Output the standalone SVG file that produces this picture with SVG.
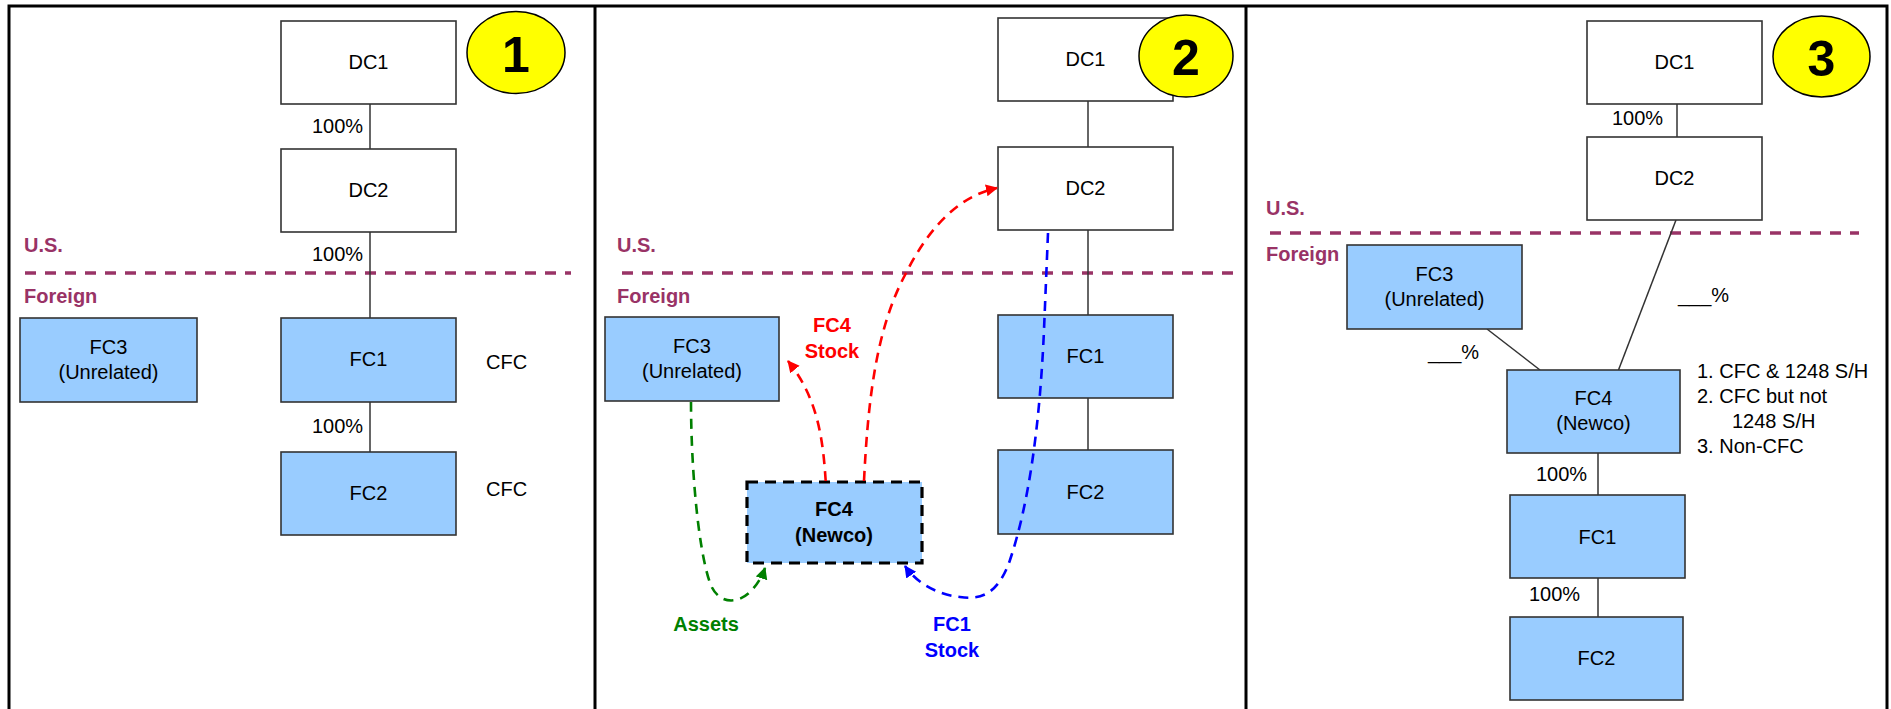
<svg xmlns="http://www.w3.org/2000/svg" width="1891" height="709" viewBox="0 0 1891 709">
  <style>
    text { font-family: "Liberation Sans", Arial, sans-serif; font-size: 20px; fill: #000; }
    .c { text-anchor: middle; }
    .box { stroke: #333; stroke-width: 1.6; }
    .us { fill: #fff; }
    .fc { fill: #99ccff; }
    .link { stroke: #333; stroke-width: 1.5; fill: none; }
    .zone { font-weight: bold; fill: #993366; }
    .border { stroke: #000; stroke-width: 3; fill: none; }
    .divide { stroke: #993366; stroke-width: 3.5; stroke-dasharray: 11 9; fill: none; }
    .badge { fill: #ffff00; stroke: #000; stroke-width: 1.5; }
    .num { font-weight: bold; font-size: 50px; text-anchor: middle; }
    .flow { fill: none; stroke-width: 2.6; stroke-dasharray: 10 7; }
    .b { font-weight: bold; }
  </style>
  <defs>
    <marker id="ah-red" markerUnits="userSpaceOnUse" markerWidth="14" markerHeight="14" refX="11" refY="6" orient="auto">
      <path d="M0,0 L12,6 L0,12 z" fill="#ff0000"/>
    </marker>
    <marker id="ah-green" markerUnits="userSpaceOnUse" markerWidth="14" markerHeight="14" refX="11" refY="6" orient="auto">
      <path d="M0,0 L12,6 L0,12 z" fill="#008000"/>
    </marker>
    <marker id="ah-blue" markerUnits="userSpaceOnUse" markerWidth="14" markerHeight="14" refX="11" refY="6" orient="auto">
      <path d="M0,0 L12,6 L0,12 z" fill="#0000ff"/>
    </marker>
  </defs>

  <rect width="1891" height="709" fill="#fff"/>

  <!-- frame and panel dividers -->
  <g id="frame">
    <polyline class="border" points="9,709 9,6 1887,6 1887,709"/>
    <line class="border" x1="595" y1="6" x2="595" y2="709"/>
    <line class="border" x1="1246" y1="6" x2="1246" y2="709"/>
  </g>

  <!-- ===== Panel 1 ===== -->
  <g id="p1-border-zone">
    <line class="divide" x1="25" y1="273" x2="571" y2="273"/>
    <text class="zone" x="24" y="252">U.S.</text>
    <text class="zone" x="24" y="303">Foreign</text>
  </g>
  <g id="p1-connectors">
    <line class="link" x1="370" y1="104" x2="370" y2="149"/>
    <line class="link" x1="370" y1="232" x2="370" y2="318"/>
    <line class="link" x1="370" y1="402" x2="370" y2="452"/>
    <text x="312" y="133">100%</text>
    <text x="312" y="261">100%</text>
    <text x="312" y="433">100%</text>
  </g>
  <g id="p1-dc1">
    <rect class="box us" x="281" y="21" width="175" height="83"/>
    <text class="c" x="368.5" y="69">DC1</text>
  </g>
  <g id="p1-badge">
    <ellipse class="badge" cx="516" cy="52.5" rx="49" ry="41"/>
    <text class="num" x="516" y="72">1</text>
  </g>
  <g id="p1-dc2">
    <rect class="box us" x="281" y="149" width="175" height="83"/>
    <text class="c" x="368.5" y="197">DC2</text>
  </g>
  <g id="p1-fc3">
    <rect class="box fc" x="20" y="318" width="177" height="84"/>
    <text class="c" x="108.5" y="354">FC3</text>
    <text class="c" x="108.5" y="379">(Unrelated)</text>
  </g>
  <g id="p1-fc1">
    <rect class="box fc" x="281" y="318" width="175" height="84"/>
    <text class="c" x="368.5" y="366">FC1</text>
    <text x="486" y="369">CFC</text>
  </g>
  <g id="p1-fc2">
    <rect class="box fc" x="281" y="452" width="175" height="83"/>
    <text class="c" x="368.5" y="500">FC2</text>
    <text x="486" y="496">CFC</text>
  </g>

  <!-- ===== Panel 2 ===== -->
  <g id="p2-border-zone">
    <line class="divide" x1="622" y1="273" x2="1238" y2="273"/>
    <text class="zone" x="617" y="252">U.S.</text>
    <text class="zone" x="617" y="303">Foreign</text>
  </g>
  <g id="p2-dc1">
    <rect class="box us" x="998" y="18" width="175" height="83"/>
    <text class="c" x="1085.5" y="66">DC1</text>
  </g>
  <g id="p2-badge">
    <ellipse class="badge" cx="1186" cy="56" rx="47" ry="41"/>
    <text class="num" x="1186" y="75">2</text>
  </g>
  <g id="p2-dc2">
    <rect class="box us" x="998" y="147" width="175" height="83"/>
    <text class="c" x="1085.5" y="195">DC2</text>
  </g>
  <g id="p2-fc3">
    <rect class="box fc" x="605" y="317" width="174" height="84"/>
    <text class="c" x="692" y="353">FC3</text>
    <text class="c" x="692" y="378">(Unrelated)</text>
  </g>
  <g id="p2-fc1">
    <rect class="box fc" x="998" y="315" width="175" height="83"/>
    <text class="c" x="1085.5" y="363">FC1</text>
  </g>
  <g id="p2-fc2">
    <rect class="box fc" x="998" y="450" width="175" height="84"/>
    <text class="c" x="1085.5" y="499">FC2</text>
  </g>
  <g id="p2-fc4">
    <rect x="747" y="482" width="175" height="81" fill="#99ccff" stroke="#000" stroke-width="3.2" stroke-dasharray="11 7"/>
    <text class="c b" x="834" y="516">FC4</text>
    <text class="c b" x="834" y="542">(Newco)</text>
  </g>
  <g id="p2-connectors">
    <line class="link" x1="1088" y1="101" x2="1088" y2="147"/>
    <line class="link" x1="1088" y1="230" x2="1088" y2="315"/>
    <line class="link" x1="1088" y1="398" x2="1088" y2="450"/>
    <path class="flow" stroke="#008000" marker-end="url(#ah-green)" d="M691,402 C691,460 697,545 710,583 C718,605 738,604 750,592 C757,585 762,577 765,568"/>
    <path class="flow" stroke="#ff0000" marker-end="url(#ah-red)" d="M825.7,481 C823,440 818,398 788,361"/>
    <path class="flow" stroke="#ff0000" marker-end="url(#ah-red)" d="M864,481 C868,400 876,330 905,275 C930,225 960,196 997,188"/>
    <path class="flow" stroke="#0000ff" marker-end="url(#ah-blue)" d="M1048,233 L1044,330 C1040,420 1030,500 1010,560 C998,595 980,600 960,597 C940,595 918,585 905,566"/>
    <text class="c b" x="832" y="332" style="fill:#ff0000">FC4</text>
    <text class="c b" x="832" y="358" style="fill:#ff0000">Stock</text>
    <text class="c b" x="706" y="631" style="fill:#008000">Assets</text>
    <text class="c b" x="952" y="631" style="fill:#0000ff">FC1</text>
    <text class="c b" x="952" y="657" style="fill:#0000ff">Stock</text>
  </g>

  <!-- ===== Panel 3 ===== -->
  <g id="p3-border-zone">
    <line class="divide" x1="1270" y1="233" x2="1859" y2="233"/>
    <text class="zone" x="1266" y="215">U.S.</text>
    <text class="zone" x="1266" y="261">Foreign</text>
  </g>
  <g id="p3-connectors">
    <line class="link" x1="1677" y1="104" x2="1677" y2="137"/>
    <text x="1612" y="125">100%</text>
    <line class="link" x1="1676" y1="220" x2="1618.5" y2="370"/>
    <text x="1678" y="302">___%</text>
    <line class="link" x1="1487" y1="329" x2="1540" y2="370"/>
    <text x="1428" y="359">___%</text>
    <line class="link" x1="1598" y1="453" x2="1598" y2="495"/>
    <text x="1536" y="481">100%</text>
    <line class="link" x1="1598" y1="578" x2="1598" y2="617"/>
    <text x="1529" y="601">100%</text>
  </g>
  <g id="p3-dc1">
    <rect class="box us" x="1587" y="21" width="175" height="83"/>
    <text class="c" x="1674.5" y="69">DC1</text>
  </g>
  <g id="p3-badge">
    <ellipse class="badge" cx="1821.5" cy="56.5" rx="48.5" ry="40.5"/>
    <text class="num" x="1821.5" y="76">3</text>
  </g>
  <g id="p3-dc2">
    <rect class="box us" x="1587" y="137" width="175" height="83"/>
    <text class="c" x="1674.5" y="185">DC2</text>
  </g>
  <g id="p3-fc3">
    <rect class="box fc" x="1347" y="245" width="175" height="84"/>
    <text class="c" x="1434.5" y="281">FC3</text>
    <text class="c" x="1434.5" y="306">(Unrelated)</text>
  </g>
  <g id="p3-fc4">
    <rect class="box fc" x="1507" y="370" width="173" height="83"/>
    <text class="c" x="1593.5" y="405">FC4</text>
    <text class="c" x="1593.5" y="430">(Newco)</text>
    <text x="1697" y="378">1. CFC &amp; 1248 S/H</text>
    <text x="1697" y="403">2. CFC but not</text>
    <text x="1732" y="428">1248 S/H</text>
    <text x="1697" y="453">3. Non-CFC</text>
  </g>
  <g id="p3-fc1">
    <rect class="box fc" x="1510" y="495" width="175" height="83"/>
    <text class="c" x="1597.5" y="544">FC1</text>
  </g>
  <g id="p3-fc2">
    <rect class="box fc" x="1510" y="617" width="173" height="83"/>
    <text class="c" x="1596.5" y="665">FC2</text>
  </g>
</svg>
